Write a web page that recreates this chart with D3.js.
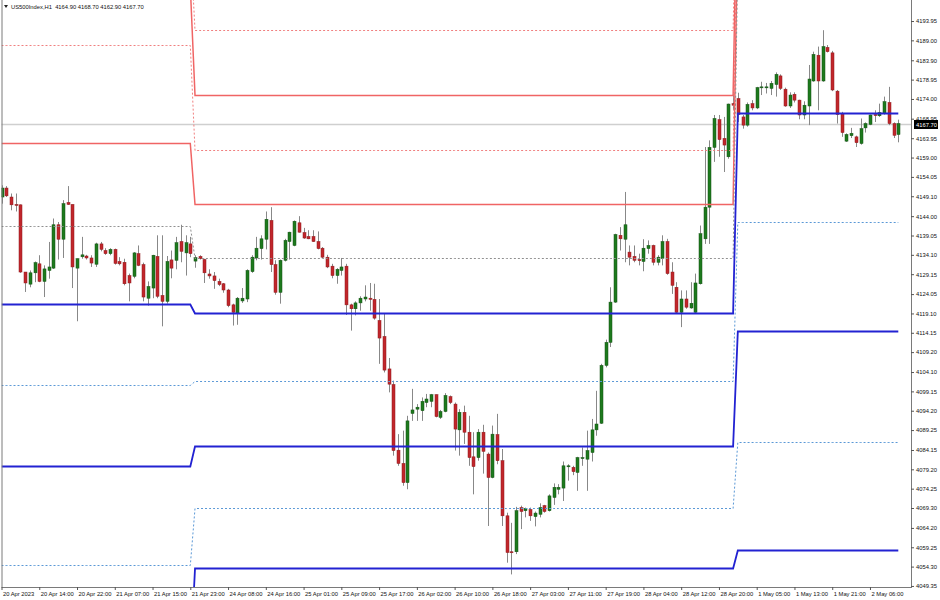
<!DOCTYPE html>
<html>
<head>
<meta charset="utf-8">
<script src="https://cdn.jsdelivr.net/npm/d3@7"></script>
<style>
  body { margin: 0; background: #fff; }
  svg { display: block; font-family: "Liberation Sans", Arial, sans-serif; }
</style>
</head>
<body>
<svg id="chart" width="940" height="600"></svg>
<script>
// US500Index H1 candles, 20 Apr 2023 06:00 .. 2 May 2023 11:00
const opens = [
  4148.9,4151.2,4148.9,4147.0,4146.9,4129.7,4126.6,4129.5,4131.8,4127.3,
  4130.1,4130.7,4141.8,4138.1,4147.5,4147.0,4130.7,4133.6,4133.8,4133.3,
  4131.7,4136.9,4135.2,4134.4,4135.5,4132.4,4132.2,4128.8,4128.6,4134.4,
  4131.6,4123.0,4125.6,4133.7,4123.7,4122.2,4132.8,4132.7,4137.5,4134.6,
  4136.9,4132.5,4133.7,4132.9,4129.2,4128.7,4127.3,4126.7,4125.1,4121.3,
  4119.2,4122.3,4122.8,4129.8,4133.3,4135.7,4138.1,4142.9,4131.6,4124.5,
  4132.7,4137.5,4136.5,4142.3,4139.8,4138.8,4138.8,4137.5,4135.8,4133.5,
  4131.2,4128.8,4130.1,4131.2,4121.3,4120.3,4121.8,4122.8,4123.0,4122.7,
  4117.3,4113.2,4104.9,4100.9,4084.1,4080.7,4075.8,4093.5,4094.6,4094.2,
  4096.3,4096.6,4098.3,4092.5,4094.0,4097.8,4095.9,4089.3,4093.8,4088.7,
  4082.4,4082.2,4088.7,4083.1,4077.1,4088.1,4081.4,4067.3,4058.1,4058.1,
  4069.4,4068.6,4068.9,4067.1,4067.7,4069.9,4068.6,4072.0,4074.1,4074.4,
  4079.9,4079.7,4078.4,4082.0,4081.8,4083.5,4089.3,4091.0,4105.8,4111.7,
  4122.0,4139.1,4138.1,4134.8,4133.7,4132.9,4132.4,4135.7,4136.5,4132.2,
  4133.1,4137.5,4129.7,4125.8,4119.4,4122.8,4120.5,4119.4,4126.7,4138.2,
  4146.3,4161.6,4168.7,4163.9,4159.2,4172.8,4174.1,4169.4,4167.3,4172.8,
  4171.7,4176.9,4176.9,4176.7,4177.7,4179.9,4176.5,4172.2,4175.2,4173.7,
  4169.9,4172.2,4178.6,4185.2,4178.6,4187.2,4185.8,4176.0,4170.3,4163.2,
  4164.6,4164.3,4162.6,4166.6,4167.5,4170.0,4169.7,4170.3,4173.1,4167.7,
  4164.9
];
const highs = [
  4151.9,4151.7,4149.8,4149.8,4147.0,4129.7,4130.1,4132.4,4134.0,4131.4,
  4137.4,4143.4,4142.5,4148.1,4151.7,4147.0,4133.2,4138.7,4134.1,4134.0,
  4137.2,4137.4,4135.8,4135.8,4135.7,4133.5,4133.1,4129.3,4134.8,4136.5,
  4132.1,4127.3,4134.1,4139.1,4139.1,4133.8,4135.2,4138.7,4141.8,4139.1,
  4138.7,4134.0,4134.0,4133.1,4130.4,4129.7,4128.0,4126.9,4125.4,4121.6,
  4123.3,4125.6,4130.4,4134.0,4138.7,4139.1,4145.2,4146.3,4132.7,4132.9,
  4138.2,4140.0,4142.9,4144.0,4141.0,4140.4,4140.4,4140.1,4136.1,4134.1,
  4131.8,4130.7,4133.3,4131.8,4121.6,4122.2,4123.5,4126.3,4126.9,4126.7,
  4122.8,4119.0,4107.7,4101.9,4088.2,4089.1,4092.9,4099.8,4095.9,4097.6,
  4098.5,4098.5,4098.4,4094.4,4098.7,4098.1,4096.3,4094.6,4095.5,4092.9,
  4088.7,4089.5,4090.6,4083.5,4090.4,4093.4,4084.4,4068.1,4065.5,4069.6,
  4069.9,4069.4,4069.4,4068.4,4070.5,4070.1,4072.8,4075.6,4075.4,4081.2,
  4080.5,4080.1,4082.4,4084.8,4089.1,4092.1,4099.3,4106.2,4112.4,4125.8,
  4139.5,4141.2,4150.2,4136.5,4136.5,4134.4,4138.1,4137.8,4136.7,4134.0,
  4139.1,4138.2,4132.2,4127.1,4125.0,4125.0,4127.1,4129.3,4141.6,4161.7,
  4163.4,4169.9,4169.9,4169.4,4172.8,4175.8,4175.6,4169.9,4173.1,4173.7,
  4177.1,4178.4,4178.1,4178.6,4180.8,4180.3,4176.9,4175.7,4175.7,4173.8,
  4173.4,4182.7,4186.1,4187.4,4191.6,4187.8,4186.3,4176.3,4170.7,4165.2,
  4166.6,4164.6,4169.0,4168.0,4170.0,4171.1,4172.8,4174.6,4177.1,4168.0,
  4168.7
];
const lows = [
  4147.2,4148.9,4145.5,4145.2,4129.5,4124.6,4125.8,4127.1,4127.1,4123.3,
  4128.0,4130.5,4132.9,4133.3,4146.9,4125.6,4117.1,4133.1,4132.9,4131.0,
  4131.0,4135.0,4134.1,4134.0,4131.6,4131.4,4126.3,4122.2,4128.1,4131.2,
  4122.2,4121.1,4123.0,4123.0,4115.8,4121.6,4128.1,4130.4,4132.2,4128.8,
  4133.5,4130.8,4132.9,4126.9,4128.0,4125.4,4126.1,4124.4,4120.7,4116.0,
  4116.2,4121.8,4122.0,4129.5,4132.7,4132.9,4135.5,4129.7,4123.9,4121.6,
  4132.4,4132.9,4136.3,4139.8,4138.2,4138.1,4137.4,4135.5,4133.3,4130.7,
  4128.1,4126.7,4128.8,4118.7,4114.7,4118.6,4119.8,4122.2,4119.8,4117.5,
  4106.2,4104.0,4098.9,4082.7,4080.1,4075.0,4074.1,4091.6,4091.6,4091.6,
  4095.1,4095.1,4092.5,4092.1,4093.8,4095.9,4084.0,4082.7,4085.7,4080.1,
  4072.8,4081.4,4078.1,4064.7,4076.9,4080.5,4064.7,4055.3,4052.3,4057.5,
  4063.9,4066.9,4066.0,4064.6,4066.9,4068.1,4068.4,4070.1,4072.8,4071.1,
  4076.3,4077.7,4073.7,4080.1,4073.7,4081.2,4087.8,4090.8,4105.3,4110.5,
  4121.8,4135.2,4132.2,4131.4,4132.2,4131.4,4129.9,4134.4,4131.4,4131.4,
  4131.4,4129.0,4124.1,4119.0,4115.6,4120.3,4120.3,4119.2,4126.5,4136.9,
  4136.9,4157.9,4159.2,4155.3,4158.7,4171.1,4168.1,4166.4,4166.9,4171.1,
  4171.4,4175.0,4175.4,4175.0,4174.6,4176.3,4172.0,4171.7,4173.1,4168.8,
  4168.8,4167.3,4178.4,4171.1,4178.4,4185.9,4176.0,4167.7,4164.3,4163.0,
  4164.0,4161.7,4162.3,4165.4,4167.3,4168.1,4169.4,4170.0,4167.3,4164.0,
  4162.9
];
const closes = [
  4151.2,4149.2,4146.9,4146.9,4129.7,4126.9,4129.5,4132.1,4127.3,4130.5,
  4131.0,4141.8,4138.1,4147.2,4147.0,4131.0,4133.1,4134.1,4133.3,4132.0,
  4136.9,4135.5,4134.4,4135.5,4131.9,4131.8,4126.7,4126.9,4134.6,4131.4,
  4123.3,4126.0,4134.0,4123.5,4122.2,4132.4,4130.7,4137.2,4135.0,4137.2,
  4134.4,4133.4,4133.1,4129.5,4128.7,4127.5,4126.5,4125.1,4121.1,4119.4,
  4123.0,4123.0,4130.1,4133.5,4135.8,4138.2,4143.2,4131.6,4124.5,4132.7,
  4137.8,4139.9,4142.7,4139.9,4138.4,4138.2,4137.5,4135.7,4133.5,4131.0,
  4128.8,4130.4,4131.0,4121.3,4120.3,4121.8,4123.0,4123.3,4122.7,4117.9,
  4112.8,4104.6,4101.0,4084.0,4080.7,4075.8,4091.6,4094.4,4095.1,4096.6,
  4097.2,4098.3,4092.7,4094.0,4098.1,4096.3,4089.5,4093.8,4088.7,4082.2,
  4079.9,4088.7,4083.8,4077.1,4088.2,4081.4,4067.3,4057.9,4057.9,4068.6,
  4068.4,4069.2,4067.3,4068.0,4069.4,4068.4,4072.4,4074.6,4074.6,4080.1,
  4080.1,4078.6,4082.2,4082.2,4084.0,4089.3,4090.8,4105.8,4111.7,4122.0,
  4139.3,4138.2,4141.8,4133.5,4132.7,4132.6,4135.8,4136.5,4132.2,4133.5,
  4137.5,4129.3,4126.3,4119.4,4122.8,4120.7,4121.7,4126.9,4139.5,4146.3,
  4161.6,4169.0,4163.6,4162.2,4172.7,4172.4,4170.0,4167.3,4172.6,4171.7,
  4176.9,4177.1,4177.1,4178.0,4180.3,4176.7,4172.2,4175.0,4173.7,4169.9,
  4172.4,4179.1,4185.4,4178.6,4187.4,4186.1,4176.3,4170.0,4165.4,4164.9,
  4165.2,4162.8,4166.4,4167.7,4169.9,4169.9,4170.5,4173.3,4167.7,4164.7,
  4167.7
];

// bottom time labels, one every 8 bars
const xTickLabels = [
  "20 Apr 2023","20 Apr 14:00","20 Apr 22:00","21 Apr 07:00","21 Apr 15:00",
  "21 Apr 23:00","24 Apr 08:00","24 Apr 16:00","25 Apr 01:00","25 Apr 09:00",
  "25 Apr 17:00","26 Apr 02:00","26 Apr 10:00","26 Apr 18:00","27 Apr 03:00",
  "27 Apr 11:00","27 Apr 19:00","28 Apr 04:00","28 Apr 12:00","28 Apr 20:00",
  "1 May 05:00","1 May 13:00","1 May 21:00","2 May 06:00"
];
const xTickStep = 8;

const yTickLabels = [
  "4193.95","4189.00","4183.90","4178.95","4174.00","4168.95","4163.95","4159.00",
  "4154.05","4149.10","4144.00","4139.05","4134.10","4129.15","4124.05","4119.10",
  "4114.15","4109.20","4104.10","4099.15","4094.20","4089.25","4084.15","4079.20",
  "4074.25","4069.30","4064.20","4059.25","4054.30","4049.35"
];

// daily pivot levels: first bar of each day, then one value per day
const dayStart = [0, 41, 156];
const levelM4 = [4215.0, 4191.6, 4250.0];
const levelR2 = [4203.0, 4175.0, 4240.0];
const levelM3 = [4187.8, 4160.9, 4230.0];
const levelR1 = [4162.7, 4147.0, 4220.0];
const levelPP = [4141.6, 4133.2, 4210.0];
const levelS1 = [4121.4, 4119.1, 4170.4];
const levelM2 = [4100.9, 4101.9, 4142.4];
const levelS2 = [4080.1, 4085.2, 4114.5];
const levelM1 = [4054.7, 4069.3, 4086.3];
const levelS3 = [4030.0, 4054.0, 4058.6];

const svg = d3.select("#chart");
const plot = { left: 1.5, right: 911, top: 0, bottom: 587 };
const n = closes.length;
const barStep = 4.72;

const x = d3.scaleLinear().domain([0, n - 1]).range([1.5, 1.5 + barStep * (n - 1)]);
const y = d3.scaleLinear().domain([4049.08, 4199.33]).range([plot.bottom, plot.top]);

svg.append("defs").append("clipPath").attr("id", "clip")
  .append("rect")
  .attr("x", plot.left).attr("y", plot.top)
  .attr("width", plot.right - plot.left).attr("height", plot.bottom - plot.top);

const bars = d3.range(n).map(i => ({ i, o: opens[i], h: highs[i], l: lows[i], c: closes[i] }));
const px = i => Math.round(x(i));

// last price line (behind candles)
const lastPrice = closes[n - 1];
svg.append("line")
  .attr("x1", plot.left).attr("x2", plot.right)
  .attr("y1", Math.round(y(lastPrice)) + 0.5).attr("y2", Math.round(y(lastPrice)) + 0.5)
  .attr("stroke", "#cfcfcf").attr("stroke-width", 1.3);

const candles = svg.append("g").attr("clip-path", "url(#clip)");

candles.selectAll("line.wick")
  .data(bars)
  .join("line")
  .attr("class", "wick")
  .attr("x1", d => px(d.i) + 0.5).attr("x2", d => px(d.i) + 0.5)
  .attr("y1", d => y(d.h)).attr("y2", d => y(d.l))
  .attr("stroke", "#888").attr("stroke-width", 1);

candles.selectAll("rect.body")
  .data(bars)
  .join("rect")
  .attr("class", "body")
  .attr("x", d => px(d.i) - 1)
  .attr("width", 3)
  .attr("y", d => y(Math.max(d.o, d.c)))
  .attr("height", d => Math.max(1, y(Math.min(d.o, d.c)) - y(Math.max(d.o, d.c))))
  .attr("fill", d => d.c >= d.o ? "#1d7a1d" : "#c1262b")
  .attr("stroke", d => d.c >= d.o ? "#145214" : "#8e1a1d")
  .attr("stroke-width", 0.5);

// pivot lines on top of candles
const dayOf = i => d3.bisectRight(dayStart, i) - 1;
const levelLine = d3.line().x(d => x(d.i)).y(d => Math.round(y(d.v)) + 0.5);
const levels = [
  { vals: levelM4, color: "#f07f7f", width: 1, dash: "2,2" },
  { vals: levelR2, color: "#f06464", width: 1.5, dash: null },
  { vals: levelM3, color: "#f07f7f", width: 1, dash: "2,2" },
  { vals: levelR1, color: "#f06464", width: 1.5, dash: null },
  { vals: levelPP, color: "#8f8f8f", width: 1, dash: "2,2" },
  { vals: levelS1, color: "#2222d2", width: 1.8, dash: null },
  { vals: levelM2, color: "#5a98d6", width: 1, dash: "2,2" },
  { vals: levelS2, color: "#2222d2", width: 1.8, dash: null },
  { vals: levelM1, color: "#5a98d6", width: 1, dash: "2,2" },
  { vals: levelS3, color: "#2222d2", width: 1.8, dash: null }
];

const lines = svg.append("g").attr("clip-path", "url(#clip)");
lines.selectAll("path")
  .data(levels)
  .join("path")
  .attr("d", lv => levelLine(bars.map(b => ({ i: b.i, v: lv.vals[dayOf(b.i)] }))))
  .attr("fill", "none")
  .attr("stroke", lv => lv.color)
  .attr("stroke-width", lv => lv.width)
  .attr("stroke-dasharray", lv => lv.dash);

// frame
const frame = svg.append("g").attr("stroke", "#7a7a7a").attr("stroke-width", 1);
frame.append("line").attr("x1", plot.left + 0.5).attr("x2", plot.left + 0.5).attr("y1", 0).attr("y2", plot.bottom);
frame.append("line").attr("x1", plot.left).attr("x2", plot.right + 1).attr("y1", plot.bottom + 0.5).attr("y2", plot.bottom + 0.5);
frame.append("line").attr("x1", plot.right + 0.5).attr("x2", plot.right + 0.5).attr("y1", 0).attr("y2", plot.bottom + 1);

// time axis
const xAxis = svg.append("g")
  .attr("transform", `translate(0,${plot.bottom})`)
  .call(d3.axisBottom(x)
    .tickValues(xTickLabels.map((_, k) => k * xTickStep))
    .tickFormat((d, k) => xTickLabels[k])
    .tickSize(3).tickSizeOuter(0).tickPadding(2));
xAxis.select(".domain").remove();
xAxis.selectAll(".tick line").attr("stroke", "#555");
xAxis.selectAll(".tick text")
  .attr("text-anchor", "start").attr("x", 1)
  .attr("font-size", 5.8).attr("fill", "#111");
xAxis.attr("font-family", null);

// price axis
const yAxis = svg.append("g")
  .attr("transform", `translate(${plot.right},0)`)
  .call(d3.axisRight(y)
    .tickValues(yTickLabels.map(Number))
    .tickFormat((d, k) => yTickLabels[k])
    .tickSize(3).tickSizeOuter(0).tickPadding(2));
yAxis.select(".domain").remove();
yAxis.selectAll(".tick line").attr("stroke", "#555");
yAxis.selectAll(".tick text").attr("font-size", 5.8).attr("fill", "#111");
yAxis.attr("font-family", null);

// last price tag
const tagY = Math.round(y(lastPrice)) + 0.5;
svg.append("rect")
  .attr("x", plot.right + 3).attr("y", tagY - 4.5)
  .attr("width", 24).attr("height", 9)
  .attr("fill", "#000");
svg.append("text")
  .attr("x", plot.right + 5).attr("y", tagY).attr("dy", "0.35em")
  .attr("font-size", 5.8).attr("fill", "#fff")
  .text(d3.format(".2f")(lastPrice));

// header
svg.append("path")
  .attr("d", d3.line()([[4, 5], [8, 5], [6, 8]]) + "Z")
  .attr("fill", "#222");
svg.append("text")
  .attr("x", 11).attr("y", 9)
  .attr("font-size", 5.8).attr("fill", "#111")
  .attr("xml:space", "preserve")
  .text(`US500Index,H1  ${d3.format(".2f")(opens[n - 1])} ${d3.format(".2f")(highs[n - 1])} ${d3.format(".2f")(lows[n - 1])} ${d3.format(".2f")(lastPrice)}`);
</script>
</body>
</html>
